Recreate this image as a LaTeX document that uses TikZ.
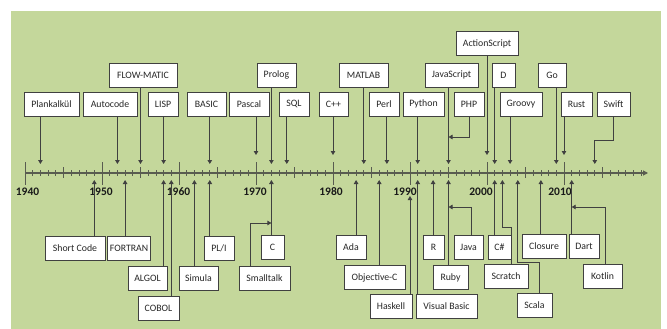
\documentclass[tikz,border=0pt]{standalone}
\usepackage{fontspec}
\setmainfont{Carlito}
\usetikzlibrary{arrows.meta,calc}
\definecolor{bgGreen}{RGB}{196,215,155}
\definecolor{lineGray}{RGB}{64,64,64}
\definecolor{tickGray}{RGB}{89,92,80}

\begin{document}
\begin{tikzpicture}[x=1pt,y=-1pt,
  lang/.style={draw=lineGray,line width=0.8pt,fill=white,inner xsep=2pt,
    minimum height=24pt,font=\fontsize{9.8}{11}\selectfont,text=black!85},
  arr/.style={lineGray,line width=0.9pt,-{Triangle[length=4pt,width=4.5pt]}},
  yearlab/.style={font=\fontsize{11.5}{13}\selectfont\bfseries,text=black!90}]
\useasboundingbox (0,0) rectangle (667,329);
\fill[bgGreen] (11,11) rectangle (661,329);
\coordinate (start) at (25,173);
\coordinate (end) at (648,173);
\draw[tickGray,line width=1.1pt,-{Triangle[length=5pt,width=5pt]}] (start) -- (end);
\foreach \i in {1,...,80}{
  \draw[tickGray,line width=0.7pt] ($(start)+(7.7*\i,-3)$) -- ++(0,6);
}
\foreach \i in {5,15,...,75}{
  \draw[tickGray,line width=0.7pt] ($(start)+(7.7*\i,-6)$) -- ++(0,11);
}
\foreach \i in {0,10,...,70}{
  \draw[tickGray,line width=0.9pt] ($(start)+(7.7*\i,-11)$) -- ++(0,23);
}
\foreach \x/\yr in {27.5/1940,101/1950,178.5/1960,255/1970,331/1980,405/1990,481/2000,560/2010}
  \node[yearlab] (lab\yr) at (\x,192) {\yr};

% languages above the axis
\node[lang,minimum width=55pt] (plank) at (51.5,104) {Plankalkül};
\node[lang,minimum width=54pt] (autocode) at (110,104) {Autocode};
\node[lang,minimum width=68pt] (flowmatic) at (143,75) {FLOW-MATIC};
\node[lang,minimum width=30pt] (lisp) at (163,104) {LISP};
\node[lang,minimum width=39pt] (basic) at (206.5,104) {BASIC};
\node[lang,minimum width=40pt] (pascal) at (249,104) {Pascal};
\node[lang,minimum width=39pt] (prolog) at (276.5,75) {Prolog};
\node[lang,minimum width=30pt] (sql) at (294,104) {SQL};
\node[lang,minimum width=29pt] (cpp) at (333.5,104) {C++};
\node[lang,minimum width=49pt] (matlab) at (363.5,75) {MATLAB};
\node[lang,minimum width=30pt] (perl) at (384,104) {Perl};
\node[lang,minimum width=41pt] (python) at (423.5,104) {Python};
\node[lang,minimum width=53pt] (javascript) at (451.5,75) {JavaScript};
\node[lang,minimum width=62pt] (actionscript) at (487,43.5) {ActionScript};
\node[lang,minimum width=30pt] (php) at (469,104) {PHP};
\node[lang,minimum width=23pt] (d) at (503.5,75) {D};
\node[lang,minimum width=42pt] (groovy) at (521,104) {Groovy};
\node[lang,minimum width=28pt] (go) at (552,75) {Go};
\node[lang,minimum width=31pt] (rust) at (576.5,104) {Rust};
\node[lang,minimum width=33pt] (swift) at (613.5,104) {Swift};

% languages below the axis
\node[lang,minimum width=60pt] (shortcode) at (75,248) {Short Code};
\node[lang,minimum width=40pt] (fortran) at (129,248) {FORTRAN};
\node[lang,minimum width=39pt] (algol) at (147.5,278.5) {ALGOL};
\node[lang,minimum width=41pt] (cobol) at (158.5,308.5) {COBOL};
\node[lang,minimum width=39pt] (simula) at (198.5,278.5) {Simula};
\node[lang,minimum width=30pt] (pli) at (219,248) {PL/I};
\node[lang,minimum width=23pt] (c) at (272.5,247) {C};
\node[lang,minimum width=51pt] (smalltalk) at (264.5,278.5) {Smalltalk};
\node[lang,minimum width=30pt] (ada) at (351,247) {Ada};
\node[lang,minimum width=61pt] (objc) at (374.5,277.5) {Objective-C};
\node[lang,minimum width=42pt] (haskell) at (391,306) {Haskell};
\node[lang,minimum width=61pt] (vbasic) at (446.5,306) {Visual Basic};
\node[lang,minimum width=21pt] (r) at (433.5,247) {R};
\node[lang,minimum width=35pt] (ruby) at (450.5,277.5) {Ruby};
\node[lang,minimum width=29pt] (java) at (468.5,247) {Java};
\node[lang,minimum width=23pt] (csharp) at (499.5,247) {C\#};
\node[lang,minimum width=44pt] (scratch) at (506,276.5) {Scratch};
\node[lang,minimum width=35pt] (scala) at (534.5,305) {Scala};
\node[lang,minimum width=44pt] (closure) at (544,246) {Closure};
\node[lang,minimum width=30pt] (dart) at (584,246) {Dart};
\node[lang,minimum width=39pt] (kotlin) at (602.5,276) {Kotlin};

% arrow ends
\coordinate (plankT) at (40.4,164);
\coordinate (autocodeT) at (117.4,164);
\coordinate (flowmaticT) at (140.5,164);
\coordinate (lispT) at (163.6,164);
\coordinate (basicT) at (209.8,164);
\coordinate (pascalT) at (256,155);
\coordinate (prologT) at (271.4,164);
\coordinate (sqlT) at (286.8,164);
\coordinate (cppT) at (333,155);
\coordinate (matlabT) at (363.8,164);
\coordinate (perlT) at (386.9,164);
\coordinate (pythonT) at (417.7,164);
\coordinate (javascriptT) at (448.5,164);
\coordinate (phpT) at (448.5,137);
\coordinate (actionscriptT) at (487,155);
\coordinate (dT) at (494.7,164);
\coordinate (groovyT) at (510.1,164);
\coordinate (goT) at (556.3,164);
\coordinate (rustT) at (564,155);
\coordinate (swiftK) at (594.8,140);
\coordinate (swiftT) at (594.8,164);
\coordinate (shortcodeT) at (94.3,180);
\coordinate (fortranT) at (125.1,180);
\coordinate (algolT) at (163.6,180);
\coordinate (cobolT) at (171.3,180);
\coordinate (simulaT) at (194.4,180);
\coordinate (pliT) at (209.8,180);
\coordinate (cT) at (271.4,180);
\coordinate (smalltalkT) at (271.4,223);
\coordinate (adaT) at (356.1,180);
\coordinate (objcT) at (379.2,180);
\coordinate (haskellT) at (410,196);
\coordinate (vbasicT) at (417.7,180);
\coordinate (rT) at (433.1,180);
\coordinate (rubyT) at (448.5,180);
\coordinate (javaT) at (448.5,207);
\coordinate (csharpT) at (494.7,180);
\coordinate (scratchK) at (502.4,227);
\coordinate (scratchT) at (502.4,180);
\coordinate (scalaK) at (517.8,262);
\coordinate (scalaT) at (517.8,180);
\coordinate (closureT) at (540.9,180);
\coordinate (dartT) at (571.7,180);
\coordinate (kotlinT) at (571.7,207);

\foreach \n in {plank,autocode,flowmatic,lisp,basic,pascal,prolog,sql,cpp,matlab,perl,python,javascript,actionscript,d,groovy,go,rust}
  \draw[arr] (\n.south -| \n T) -- (\n T);
\foreach \n in {shortcode,fortran,algol,cobol,simula,pli,c,ada,objc,haskell,vbasic,r,ruby,csharp,closure,dart}
  \draw[arr] (\n.north -| \n T) -- (\n T);
\draw[arr] (php.south) |- (phpT);
\draw[arr] (swift.south) |- (swiftK) -- (swiftT);
\draw[arr] ([xshift=12pt]smalltalk.north west) |- (smalltalkT);
\draw[arr] ([xshift=2.5pt]java.north) |- (javaT);
\draw[arr] ([xshift=5pt]scratch.north) |- (scratchK) -- (scratchT);
\draw[arr] ([xshift=4.5pt]scala.north) |- (scalaK) -- (scalaT);
\draw[arr] ([xshift=2.5pt]kotlin.north) |- (kotlinT);
\end{tikzpicture}
\end{document}
